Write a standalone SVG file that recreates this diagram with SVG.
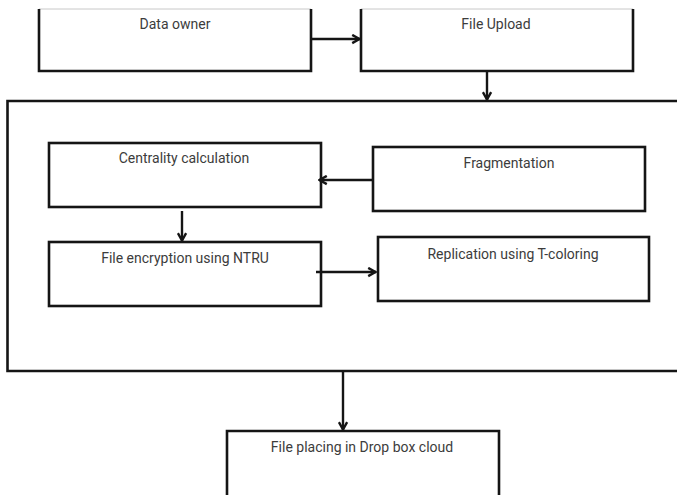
<svg xmlns="http://www.w3.org/2000/svg" width="677" height="495" viewBox="0 0 677 495">
<style>
.box{fill:#fff;stroke:#151515;stroke-width:2.6}
.open{fill:none;stroke:#151515;stroke-width:2.6}
.faint{fill:none;stroke:#c8c8c8;stroke-width:1}
.lbl{font-family:Roboto,"Liberation Sans",sans-serif;font-size:14px;fill:#3c3c3c;text-anchor:middle}
.con{fill:none;stroke:#151515;stroke-width:2.4}
</style>
<defs>
<marker id="arr" viewBox="0 0 12 12" refX="10.5" refY="6" markerWidth="11" markerHeight="11" markerUnits="userSpaceOnUse" orient="auto">
<path d="M2,1.5 L10,6 L2,10.5" fill="none" stroke="#151515" stroke-width="2.6"/>
</marker>
</defs>
<rect width="677" height="495" fill="#fff"/>
<g id="container">
<path class="open" d="M680,101 H7.5 V371 H680"/>
</g>
<g id="data-owner">
<path class="faint" d="M39,9 H311"/>
<path class="open" d="M39,9 V71 H311 V9"/>
<text class="lbl" x="175" y="29">Data owner</text>
</g>
<g id="file-upload">
<path class="faint" d="M361,9 H633"/>
<path class="open" d="M361,9 V71 H633 V9"/>
<text class="lbl" x="496" y="29">File Upload</text>
</g>
<g id="centrality">
<rect class="box" x="49" y="143" width="272" height="64"/>
<text class="lbl" x="184" y="163">Centrality calculation</text>
</g>
<g id="fragmentation">
<rect class="box" x="373" y="147" width="272" height="64"/>
<text class="lbl" x="509" y="168">Fragmentation</text>
</g>
<g id="encryption">
<rect class="box" x="49" y="242" width="272" height="64"/>
<text class="lbl" x="185" y="263">File encryption using NTRU</text>
</g>
<g id="replication">
<rect class="box" x="378" y="237" width="271" height="64"/>
<text class="lbl" x="513" y="259">Replication using T-coloring</text>
</g>
<g id="dropbox">
<path class="open" d="M227,500 V431 H499 V500"/>
<text class="lbl" x="362" y="452">File placing in Drop box cloud</text>
</g>
<g id="connectors">
<path class="con" d="M311,39 H360" marker-end="url(#arr)"/>
<path class="con" d="M487,71 V100" marker-end="url(#arr)"/>
<path class="con" d="M373,180 H319" marker-end="url(#arr)"/>
<path class="con" d="M182,211 V241" marker-end="url(#arr)"/>
<path class="con" d="M316,272 H376" marker-end="url(#arr)"/>
<path class="con" d="M343,371 V430" marker-end="url(#arr)"/>
</g>
</svg>
